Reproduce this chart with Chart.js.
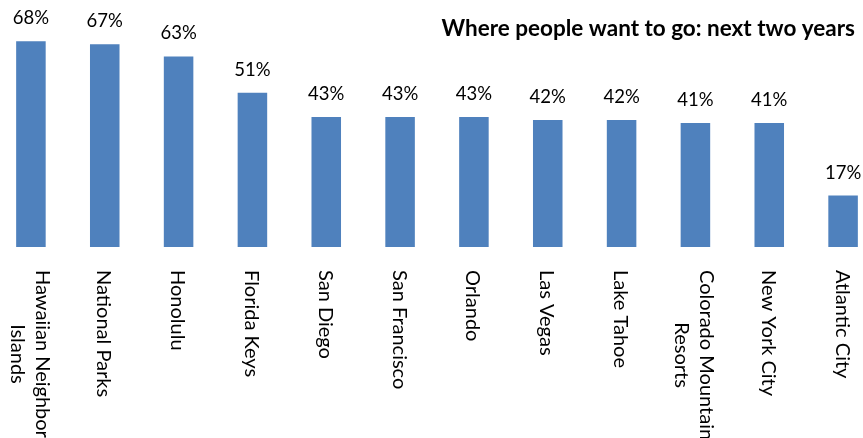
<!DOCTYPE html>
<html>
<head>
<meta charset="utf-8">
<script src="https://cdn.jsdelivr.net/npm/chart.js@4.4.0/dist/chart.umd.min.js"></script>
<style>
html,body{margin:0;padding:0;background:#fff;overflow:hidden;}
#wrap{position:absolute;left:-6px;top:0;width:886px;height:438px;}
</style>
</head>
<body>
<div id="wrap"><canvas id="chart"></canvas></div>
<script>
// ---------- DATA ----------
const places = [
    ["Hawaiian Neighbor","Islands"], "National Parks", "Honolulu", "Florida Keys",
    "San Diego", "San Francisco", "Orlando", "Las Vegas", "Lake Tahoe",
    ["Colorado Mountain","Resorts"], "New York City", "Atlantic City"
];
const shares = [68,67,63,51,43,43,43,42,42,41,41,17];
const chartTitle = "Where people want to go: next two years";

const FONT = "Lato, 'Open Sans', sans-serif";

// ---------- LABELS + TITLE ----------
const labelPlugin = {
    id:"labels",
    afterDatasetsDraw(chart){
        const ctx = chart.ctx;
        const meta = chart.getDatasetMeta(0);
        const xs = chart.scales.x;
        ctx.save();
        ctx.fillStyle = "#000";

        // value labels
        ctx.font = "18.5px " + FONT;
        ctx.textAlign = "center";
        ctx.textBaseline = "alphabetic";
        meta.data.forEach((bar,i)=>{
            ctx.fillText(shares[i]+"%", bar.x, bar.y - 17);
        });

        // category labels, turned clockwise
        ctx.font = "20px " + FONT;
        const top = chart.chartArea.bottom + 23;
        const lineH = 25;
        places.forEach((p,i)=>{
            const lines = Array.isArray(p) ? p : [p];
            const w = Math.max(...lines.map(l=>ctx.measureText(l).width));
            ctx.save();
            ctx.translate(xs.getPixelForValue(i) - 1, top + w/2);
            ctx.rotate(Math.PI/2);
            ctx.textAlign = "center";
            ctx.textBaseline = "middle";
            lines.forEach((l,j)=>{
                ctx.fillText(l, 0, (j-(lines.length-1)/2)*lineH);
            });
            ctx.restore();
        });

        // title
        ctx.font = "bold 22.5px " + FONT;
        ctx.textAlign = "right";
        ctx.textBaseline = "alphabetic";
        ctx.fillText(chartTitle, 861, 36);
        ctx.restore();
    }
};

// ---------- CHART ----------
new Chart(document.getElementById("chart"), {
    type:"bar",
    data:{
        labels:places,
        datasets:[{
            data:shares,
            backgroundColor:"#4F81BD",
            categoryPercentage:0.8,
            barPercentage:0.5
        }]
    },
    options:{
        responsive:true,
        maintainAspectRatio:false,
        animation:false,
        layout:{ padding:{ top:5, bottom:191, left:0, right:0 } },
        plugins:{ legend:{ display:false }, tooltip:{ enabled:false } },
        scales:{
            x:{ display:false },
            y:{ display:false, min:0, max:80 }
        }
    },
    plugins:[labelPlugin]
});
</script>
</body>
</html>
